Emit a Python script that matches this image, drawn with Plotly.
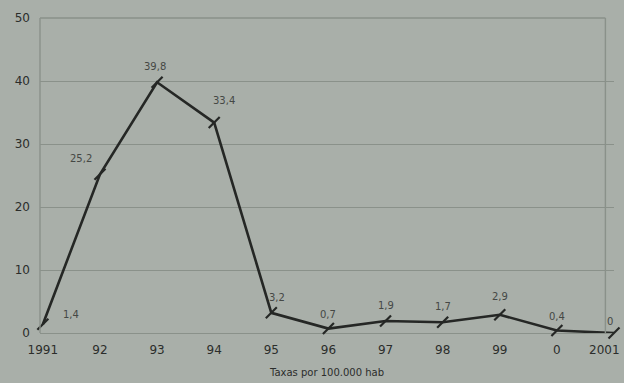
import plotly.graph_objects as go

# Annual incidence rate per 100,000 inhabitants
years = ["1991", "92", "93", "94", "95", "96", "97", "98", "99", "0", "2001"]
rates = [1.4, 25.2, 39.8, 33.4, 3.2, 0.7, 1.9, 1.7, 2.9, 0.4, 0]
rate_labels = ["1,4", "25,2", "39,8", "33,4", "3,2", "0,7", "1,9", "1,7", "2,9", "0,4", "0"]

# per-label offsets (px) so labels sit clear of the line
label_shift = [(28, 10), (-19, 16), (-2, 16), (10, 22), (6, 15), (0, 14),
               (0, 16), (0, 16), (0, 18), (0, 14), (-4, 12)]

xs = list(range(len(years)))
bg = "#a9afa9"
ink = "#252725"
grid = "#8a918a"
tick_font = dict(family="DejaVu Sans", size=12, color="#2b2d2b")

fig = go.Figure()
fig.add_trace(go.Scatter(
    x=xs, y=rates, mode="lines+markers",
    line=dict(color=ink, width=2.6),
    marker=dict(symbol="line-ne", size=11, line=dict(color=ink, width=2.2)),
    cliponaxis=False, showlegend=False,
))

for x, y, t, (dx, dy) in zip(xs, rates, rate_labels, label_shift):
    fig.add_annotation(x=x, y=y, text=t, showarrow=False, xshift=dx, yshift=dy,
                       font=dict(family="DejaVu Sans", size=10, color="#454845"))

# the last year label sits at the right edge, so it is placed by hand
fig.add_annotation(x=xs[-1], y=0, yref="paper", text=years[-1], showarrow=False,
                   xanchor="right", xshift=8, yanchor="top", yshift=-8, font=tick_font)

# frame of the plotting area
fig.add_shape(type="line", xref="paper", yref="paper", x0=0, x1=0, y0=0, y1=1,
              line=dict(color=grid, width=1.4))
fig.add_shape(type="line", xref="paper", yref="paper", x0=0.985, x1=0.985, y0=0, y1=1,
              line=dict(color=grid, width=1.4))
fig.add_shape(type="line", xref="paper", yref="paper", x0=0, x1=0.985, y0=1, y1=1,
              line=dict(color=grid, width=1.4))

fig.update_layout(
    width=624, height=383,
    margin=dict(l=40, r=10, t=18, b=50),
    paper_bgcolor=bg, plot_bgcolor=bg,
    font=dict(family="DejaVu Sans", color=ink),
    xaxis=dict(
        range=[-0.05, 10], tickmode="array", tickvals=xs[:-1], ticktext=years[:-1],
        showgrid=False, zeroline=False, showline=False, ticks="",
        ticklabelstandoff=8, tickfont=tick_font, automargin=False,
        title=dict(text="Taxas por 100.000 hab", font=dict(size=10, color="#2b2d2b"), standoff=12),
    ),
    yaxis=dict(
        range=[0, 50], tickvals=[0, 10, 20, 30, 40, 50],
        showgrid=True, gridcolor=grid, gridwidth=1.3,
        zeroline=True, zerolinecolor=grid, zerolinewidth=1.3,
        showline=False, ticks="", ticklabelstandoff=9, tickfont=tick_font,
        automargin=False,
    ),
)

fig.write_html("out.html")
